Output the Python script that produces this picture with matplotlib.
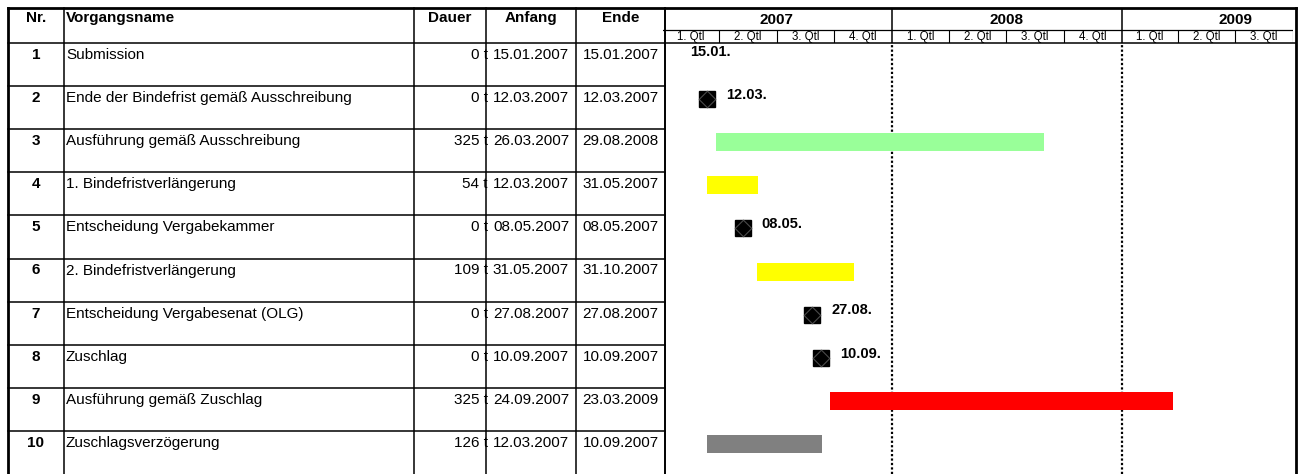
import matplotlib
matplotlib.use("Agg")
import matplotlib.pyplot as plt
import matplotlib.dates as mdates
from datetime import date, datetime, timedelta

plt.rcParams['font.family'] = ['Liberation Sans', 'DejaVu Sans']

# ---------------- data ----------------
nr = [1, 2, 3, 4, 5, 6, 7, 8, 9, 10]
names = ["Submission",
         "Ende der Bindefrist gemäß Ausschreibung",
         "Ausführung gemäß Ausschreibung",
         "1. Bindefristverlängerung",
         "Entscheidung Vergabekammer",
         "2. Bindefristverlängerung",
         "Entscheidung Vergabesenat (OLG)",
         "Zuschlag",
         "Ausführung gemäß Zuschlag",
         "Zuschlagsverzögerung"]
dauer = [0, 0, 325, 54, 0, 109, 0, 0, 325, 126]
anfang = ["15.01.2007", "12.03.2007", "26.03.2007", "12.03.2007", "08.05.2007",
          "31.05.2007", "27.08.2007", "10.09.2007", "24.09.2007", "12.03.2007"]
ende = ["15.01.2007", "12.03.2007", "29.08.2008", "31.05.2007", "08.05.2007",
        "31.10.2007", "27.08.2007", "10.09.2007", "23.03.2009", "10.09.2007"]
bar_colors = [None, None, "#99FF99", "#FFFF00", None, "#FFFF00", None, None, "#FF0000", "#808080"]
marker_shown = [False, True, True, True, True, True, True, True, True, True]
col_headers = ["Nr.", "Vorgangsname", "Dauer", "Anfang", "Ende"]
years = [2007, 2008, 2009]
quarter_labels = ["1. Qtl", "2. Qtl", "3. Qtl", "4. Qtl"]
t_start = date(2007, 1, 1)
t_end = date(2009, 10, 1)

# ---------------- layout (pixels) ----------------
W, H = 1302, 474
col_edges = [8, 64, 414, 486, 576, 665]
chart_left, chart_right, border_right = 663, 1293, 1296
top_y, head_y = 8, 43
row_h = (H - head_y) / len(nr)

def parse(s):
    return datetime.strptime(s, "%d.%m.%Y").date()

fig = plt.figure(figsize=(W / 100, H / 100), dpi=100)
fig.patch.set_facecolor("white")

def fx(px):
    return px / W

# ---- gantt body axes ----
axb = fig.add_axes([fx(chart_left), 0, fx(chart_right) - fx(chart_left), (H - head_y) / H])
axb.set_xlim(mdates.date2num(t_start), mdates.date2num(t_end))
axb.set_ylim(len(nr), 0)
axb.axis("off")

for y in years[1:]:
    axb.axvline(mdates.date2num(date(y, 1, 1)), color="black", lw=1.6,
                linestyle=(0, (1, 1)), zorder=1)

yoff = 13 / row_h
for i in range(len(nr)):
    s = parse(anfang[i])
    e = parse(ende[i])
    yc = i + yoff
    if dauer[i] > 0:
        x0 = mdates.date2num(s)
        x1 = mdates.date2num(e + timedelta(days=1))
        axb.barh(yc, x1 - x0, left=x0, height=18 / row_h, color=bar_colors[i],
                 edgecolor="none", zorder=3)
    else:
        xm = mdates.date2num(s)
        if marker_shown[i]:
            axb.plot(xm, yc, marker="s", ms=12, color="black", mec="black", zorder=4)
            axb.plot(xm, yc, marker=(4, 0, 0), ms=12, mfc="none", mec="#4a4a4a",
                     mew=0.8, zorder=5)
        axb.annotate(anfang[i][:6], (xm, yc), xytext=(13.5, 3), textcoords="offset points",
                     ha="left", va="center", fontsize=10.5, fontweight="bold", zorder=6)

# ---- gantt header axes ----
axh = fig.add_axes([fx(chart_left), 1 - head_y / H, fx(chart_right) - fx(chart_left),
                    (head_y - top_y) / H])
axh.set_xlim(mdates.date2num(t_start), mdates.date2num(t_end))
axh.set_ylim(head_y - top_y, 0)
axh.axis("off")
yr_row = 22
axh.axhline(yr_row, color="black", lw=0.9)
for y in years:
    ys = date(y, 1, 1)
    axh.text(mdates.date2num(date(y, 7, 1)), yr_row / 2 + 0.5, str(y), ha="center",
             va="center", fontsize=11, fontweight="bold", clip_on=True)
    if y > years[0]:
        axh.vlines(mdates.date2num(ys), 0, head_y - top_y, color="black", lw=1.1)
    for q in range(4):
        qs = date(y, 1 + 3 * q, 1)
        if qs >= t_end:
            continue
        qe = date(y + 1, 1, 1) if q == 3 else date(y, 4 + 3 * q, 1)
        if q > 0:
            axh.vlines(mdates.date2num(qs), yr_row, head_y - top_y, color="black", lw=0.8)
        mid = mdates.date2num(qs) + (mdates.date2num(qe) - mdates.date2num(qs)) / 2
        axh.text(mid, (yr_row + head_y - top_y) / 2 + 0.5, quarter_labels[q], ha="center",
                 va="center", fontsize=8.3)
axh.vlines(mdates.date2num(t_end), yr_row, head_y - top_y, color="black", lw=0.8)

# ---- table overlay ----
axt = fig.add_axes([0, 0, 1, 1])
axt.set_xlim(0, W)
axt.set_ylim(H, 0)
axt.axis("off")
axt.patch.set_alpha(0)

# borders
axt.plot([col_edges[0], border_right], [top_y, top_y], color="black", lw=2.0)
axt.plot([col_edges[0], col_edges[0]], [top_y, H], color="black", lw=2.0)
axt.plot([border_right, border_right], [top_y, H], color="black", lw=2.0)
for cx in col_edges[1:-1]:
    axt.plot([cx, cx], [top_y, H], color="black", lw=1.1)
axt.plot([col_edges[-1], col_edges[-1]], [top_y, H], color="black", lw=1.4)
axt.plot([col_edges[0], border_right], [head_y, head_y], color="black", lw=1.1)
for k in range(1, len(nr)):
    yy = head_y + k * row_h
    axt.plot([col_edges[0], col_edges[-1]], [yy, yy], color="black", lw=1.1)

# header text
hy = 18
for j, h in enumerate(col_headers):
    if h == "Vorgangsname":
        axt.text(col_edges[j] + 2, hy, h, ha="left", va="center", fontsize=11, fontweight="bold")
    else:
        axt.text((col_edges[j] + col_edges[j + 1]) / 2, hy, h, ha="center", va="center",
                 fontsize=11, fontweight="bold")

# rows
for i in range(len(nr)):
    ty = head_y + i * row_h + 12
    axt.text((col_edges[0] + col_edges[1]) / 2, ty, str(nr[i]), ha="center", va="center",
             fontsize=11, fontweight="bold")
    axt.text(col_edges[1] + 2, ty, names[i], ha="left", va="center", fontsize=11)
    axt.text(col_edges[3] + 2, ty, f"{dauer[i]} t", ha="right", va="center", fontsize=11)
    axt.text((col_edges[3] + col_edges[4]) / 2, ty, anfang[i], ha="center", va="center", fontsize=11)
    axt.text((col_edges[4] + col_edges[5]) / 2, ty, ende[i], ha="center", va="center", fontsize=11)

fig.savefig("out.png", dpi=100)
